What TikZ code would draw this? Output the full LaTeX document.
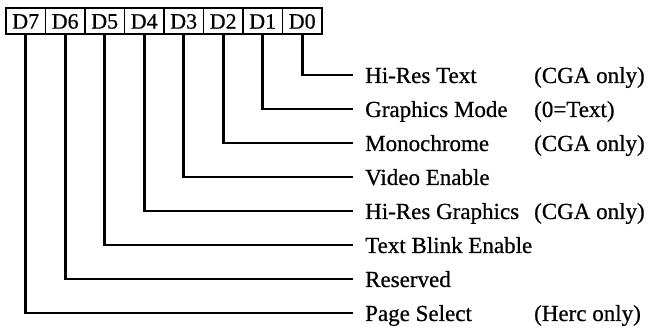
\documentclass[tikz,border=0pt]{standalone}
\usepackage{fontspec}
\setmainfont{Liberation Serif}
\newfontfamily\heavyserif[FakeBold=0.6]{Liberation Serif}
\begin{document}
\begin{tikzpicture}[x=1pt,y=-1pt,
  bitbox/.style={draw, line width=1.9pt, minimum width=39.5pt, minimum height=26pt, inner sep=0pt, font=\heavyserif\fontsize{22}{22}\selectfont, anchor=north west},
  lab/.style={anchor=west, inner xsep=13pt, inner ysep=0pt, font=\heavyserif\fontsize{23}{23}\selectfont, text height=17pt, text depth=1pt},
  note/.style={anchor=west, inner sep=0pt, font=\heavyserif\fontsize{23}{23}\selectfont, text height=17pt, text depth=1pt},
  conn/.style={line width=2.8pt, line cap=rect}]
\useasboundingbox (0,0) rectangle (649,331);
\foreach \i/\n in {0/7,1/6,2/5,3/4,4/3,5/2,6/1,7/0}{
  \node[bitbox] (b\n) at ({5+39.5*\i},7.5) {D\n};
}
\node[lab] (l0) at (352,75) {Hi-Res Text};
\node[lab] (l1) at (352,109) {Graphics Mode};
\node[lab] (l2) at (352,143) {Monochrome};
\node[lab] (l3) at (352,177) {Video Enable};
\node[lab] (l4) at (352,211) {Hi-Res Graphics};
\node[lab] (l5) at (352,245) {Text Blink Enable};
\node[lab] (l6) at (352,279) {Reserved};
\node[lab] (l7) at (352,313) {Page Select};
\node[note] (n0) at (534,75) {(CGA only)};
\node[note] (n1) at (534,109) {(0=Text)};
\node[note] (n2) at (534,143) {(CGA only)};
\node[note] (n4) at (534,211) {(CGA only)};
\node[note] (n7) at (534,313) {(Herc only)};
\foreach \n in {0,...,7}{
  \draw[conn] (b\n.south) |- (l\n.west);
}
\end{tikzpicture}
\end{document}
